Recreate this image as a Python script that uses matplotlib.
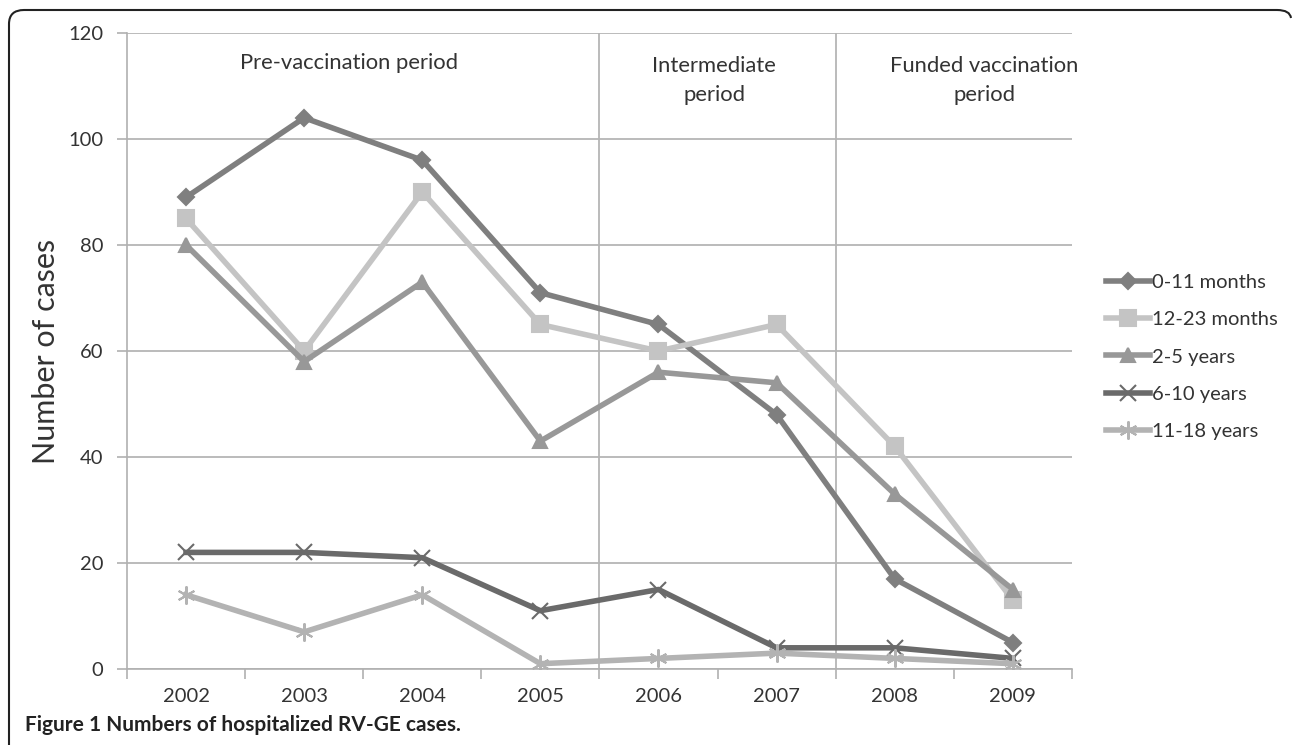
import matplotlib
matplotlib.use('Agg')
import matplotlib.pyplot as plt
from matplotlib.path import Path
from matplotlib.patches import PathPatch

plt.rcParams['font.family'] = ['Lato', 'DejaVu Sans']

years = ['2002', '2003', '2004', '2005', '2006', '2007', '2008', '2009']
age_groups = ['0-11 months', '12-23 months', '2-5 years', '6-10 years', '11-18 years']
cases_0_11m = [89, 104, 96, 71, 65, 48, 17, 5]
cases_12_23m = [85, 60, 90, 65, 60, 65, 42, 13]
cases_2_5y = [80, 58, 73, 43, 56, 54, 33, 15]
cases_6_10y = [22, 22, 21, 11, 15, 4, 4, 2]
cases_11_18y = [14, 7, 14, 1, 2, 3, 2, 1]
periods = ['Pre-vaccination period', 'Intermediate\nperiod', 'Funded vaccination\nperiod']

series = [cases_0_11m, cases_12_23m, cases_2_5y, cases_6_10y, cases_11_18y]
colors = ['#7f7f7f', '#c4c4c4', '#989898', '#6a6a6a', '#b3b3b3']
markers = ['D', 's', '^', 'x', (6, 2, 0)]
msizes = [8, 11, 10, 11, 13]

fig = plt.figure(figsize=(12.93, 7.48), dpi=100)
ax = fig.add_axes([0.0982, 0.1056, 0.7308, 0.8503])

x = list(range(len(years)))
for vals, lab, c, m, ms in zip(series, age_groups, colors, markers, msizes):
    ax.plot(x, vals, color=c, lw=4, marker=m, ms=ms, mew=1.5,
            mec=c, mfc=c, label=lab, solid_joinstyle='round')

ax.set_xlim(-0.5, 7.5)
ax.set_ylim(0, 120)
ax.set_yticks(range(0, 121, 20))
ax.set_xticks(x)
ax.set_xticklabels(years)
ax.set_xticks([i - 0.5 for i in range(9)], minor=True)
ax.tick_params(axis='x', which='major', length=0, pad=14, labelsize=14.5, labelcolor='#333333')
ax.tick_params(axis='x', which='minor', length=7, width=1.2, color='#b0b0b0', direction='out')
ax.tick_params(axis='y', length=7, width=1.2, color='#b0b0b0', labelsize=14.5,
               labelcolor='#333333', pad=10)
ax.yaxis.grid(True, color='#b5b5b5', lw=1.3)
ax.set_axisbelow(True)
for s in ['top', 'right']:
    ax.spines[s].set_visible(False)
ax.spines['left'].set_color('#b0b0b0')
ax.spines['bottom'].set_color('#b0b0b0')
ax.spines['left'].set_linewidth(1.2)
ax.spines['bottom'].set_linewidth(1.2)

# period separators
for xv in [3.5, 5.5]:
    ax.axvline(xv, color='#b5b5b5', lw=1.3, zorder=0)

ax.text(1.38, 114.3, periods[0], ha='center', va='center', fontsize=15.8, color='#333333')
ax.text(4.47, 111.0, periods[1], ha='center', va='center', fontsize=15.8, color='#333333',
        linespacing=1.55)
ax.text(6.76, 111.0, periods[2], ha='center', va='center', fontsize=15.8, color='#333333',
        linespacing=1.55)

ax.set_ylabel('Number of cases', fontsize=22, color='#333333', labelpad=6)

leg = fig.legend(loc='upper left', bbox_to_anchor=(0.841, 0.658), frameon=False,
                 fontsize=14.5, handlelength=2.2, handletextpad=0.1,
                 labelspacing=1.0)
for t in leg.get_texts():
    t.set_color('#333333')

# caption
fig.text(0.019, 0.018, 'Figure 1 Numbers of hospitalized RV-GE cases.', fontsize=15,
         fontweight='bold', color='#222222', ha='left', va='bottom')

# open rounded frame (left and top edges)
W, H = 1293, 748
pts = [(9, 745), (9, 24), (9, 10), (24, 10), (1277, 10), (1290, 10), (1291, 18)]
codes = [Path.MOVETO, Path.LINETO, Path.CURVE3, Path.CURVE3, Path.LINETO,
         Path.CURVE3, Path.CURVE3]
verts = [(px / W, 1 - py / H) for px, py in pts]
fig.patches.append(PathPatch(Path(verts, codes), transform=fig.transFigure,
                             fill=False, lw=1.5, ec='#222222'))

fig.savefig('out.png', dpi=100)
